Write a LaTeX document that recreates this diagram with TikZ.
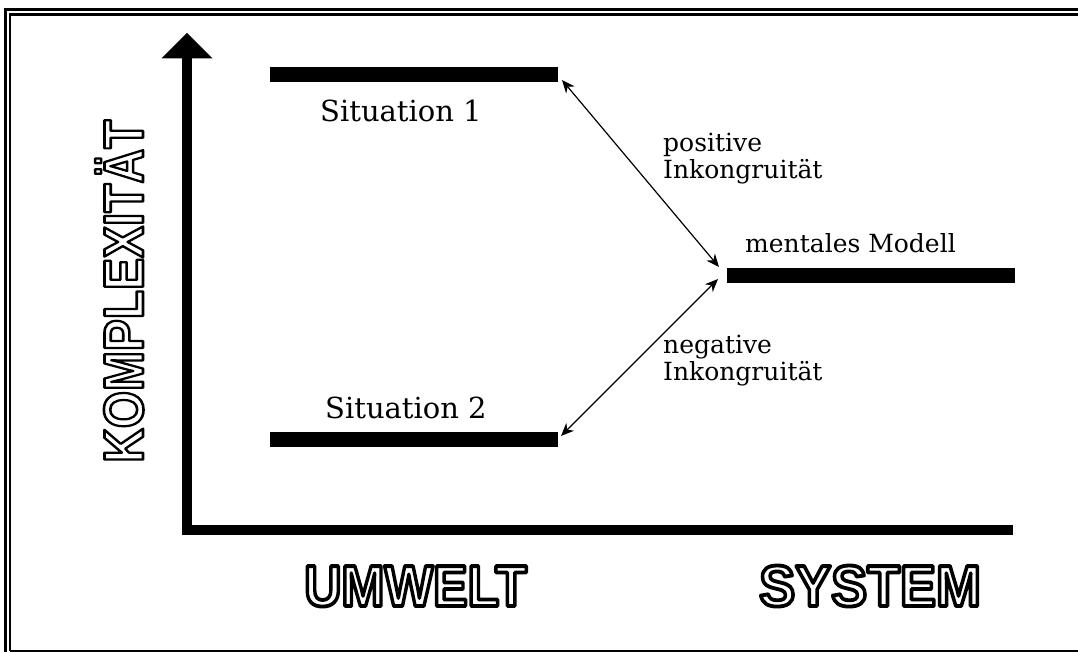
\documentclass[tikz,border=0pt]{standalone}
\usepackage{fontspec}
\setmainfont{DejaVu Serif}
\newfontfamily\blockfont{Liberation Sans}[BoldFont={Liberation Sans Bold}]
\usetikzlibrary{arrows.meta}
\newcommand{\strokeon}[1]{\special{pdf:literal direct 0 G 2 Tr #1 w 1 j}}
\newcommand{\strokeoff}{\special{pdf:literal direct 0 Tr}}
\newcommand{\outlineword}[2]{{\color{white}\strokeon{#1}#2\strokeoff}}
\begin{document}
\begin{tikzpicture}[x=1pt,y=-1pt,
  bar/.style={line width=15pt},
  axis/.style={line width=10pt},
  frameline/.style={line width=#1},
  link/.style={line width=1.2pt,{Stealth[length=13pt,width=11pt]}-{Stealth[length=13pt,width=11pt]}},
  lbl/.style={anchor=base west,inner sep=0pt,align=left,font=\fontsize{25}{27}\selectfont},
  sit/.style={anchor=base west,inner sep=0pt,font=\fontsize{29}{30}\selectfont},
  block/.style={inner sep=0pt,font=\blockfont\bfseries\fontsize{58}{60}\selectfont}]
\useasboundingbox (0,0) rectangle (1078,652);
% frame
\draw[frameline=3pt] (5.5,652) -- (5.5,9.5) -- (1078,9.5);
\draw[frameline=2.5pt] (10.2,651) -- (10.2,14.5) -- (1078,14.5);
\draw[frameline=2pt] (10.2,651) -- (1078,651);
% axes
\coordinate (origin) at (187,529.5);
\coordinate (ytop) at (187,57);
\coordinate (xend) at (1013,529.5);
\draw[axis] (187,535) -- (ytop);
\draw[axis] (182,529.5) -- (xend);
\fill (187,33) -- (161.5,58.5) -- (212.5,58.5) -- cycle;
% bars
\coordinate (s1a) at (270,74.5);
\coordinate (s1b) at (558,74.5);
\coordinate (s2a) at (270,439.5);
\coordinate (s2b) at (558,439.5);
\coordinate (ma) at (727,275);
\coordinate (mb) at (1015,275);
\draw[bar] (s1a) -- (s1b);
\draw[bar] (s2a) -- (s2b);
\draw[bar] (ma) -- (mb);
% links
\coordinate (p1) at (562,80);
\coordinate (p2) at (719,267);
\coordinate (n1) at (718,279);
\coordinate (n2) at (561,436);
\draw[link] (p1) -- (p2);
\draw[link] (n1) -- (n2);
% labels
\node[sit] (sit1) at (320,122) {Situation 1};
\node[sit] (sit2) at (325,418) {Situation 2};
\node[lbl] (pos) at (663,179) {positive\\Inkongruität};
\node[lbl] (neg) at (663,380) {negative\\Inkongruität};
\node[lbl] (mod) at (745,253) {mentales Modell};
% big words
\node[block,anchor=base west] (umwelt) at (304,606) {\scalebox{0.89}[1]{\outlineword{3.8}{UMWELT}}};
\node[block,anchor=base west] (system) at (759,606) {\scalebox{0.93}[1]{\outlineword{3.8}{SYSTEM}}};
\node[block,anchor=base west,rotate=90,font=\blockfont\bfseries\fontsize{56}{58}\selectfont] (komp) at (143,463) {\scalebox{0.855}[1]{\outlineword{2.6}{KOMPLEXITÄT}}};
\end{tikzpicture}
\end{document}
